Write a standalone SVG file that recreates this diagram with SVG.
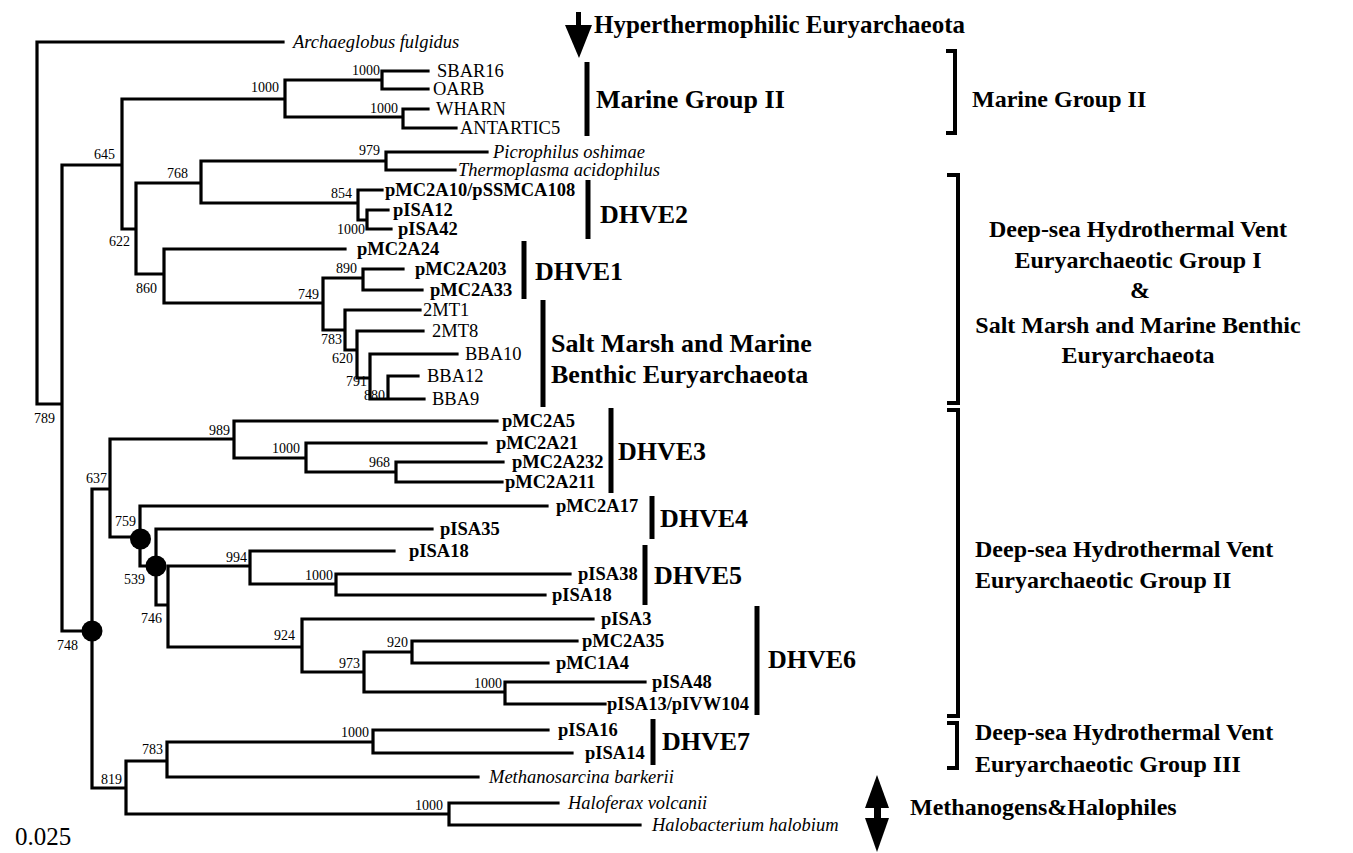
<svg xmlns="http://www.w3.org/2000/svg" width="1353" height="853" viewBox="0 0 1353 853">
<style>
.br{fill:none;stroke:#000;stroke-width:3.2;stroke-linecap:square;stroke-linejoin:miter}
.bar{stroke:#000;stroke-width:5;fill:none}
.bk{fill:none;stroke:#000;stroke-width:4}
text{font-family:"Liberation Serif","Times New Roman",serif;fill:#000}
.bs{font-size:14px;text-anchor:end}
.lf{font-size:18.5px}
.lb{font-size:18.5px;font-weight:bold}
.li{font-size:18.5px;font-style:italic}
.gl{font-size:26px;font-weight:bold}
.rl{font-size:24px;font-weight:bold}
.rc{font-size:24px;font-weight:bold;text-anchor:middle}
</style>
<rect x="0" y="0" width="1353" height="853" fill="#fff"/>
<g id="connectors">
<path class="br" d="M283 42 H37 V404 H62 M62 165 V631 H92 M62 165 H122
M285 99 H122 V229 H136
M382 80 H285 V117 H403
M428 71 H382 V89 H428
M428 109 H403 V128 H456
M201 183 H136 V274 H164
M386 161 H201 V203 H358
M487 152 H386 V170 H455
M382 190 H358 V220 H367
M388 210 H367 V229 H391
M345 249 H164 V303 H323
M363 278 H323 V330 H345
M403 269 H363 V290 H422
M420 310 H345 V350 H357
M423 331 H357 V378 H370
M457 354 H370 V399 H388
M418 376 H388 V399 H424
M110 489 H92 V788 H126
M234 439 H110 V537 H140
M497 421 H234 V458 H306
M486 443 H306 V472 H396
M503 462 H396 V482 H502
M547 506 H140 V566 H156
M432 529 H156 V605 H168
M250 566 H168 V647 H302
M394 551 H250 V584 H336
M570 574 H336 V595 H545
M593 619 H302 V672 H364
M412 652 H364 V692 H505
M577 641 H412 V663 H548
M645 682 H505 V704 H605
M167 761 H126 V814 H449
M373 742 H167 V777 H478
M548 730 H373 V753 H572
M558 803 H449 V825 H640"/>
<circle cx="92" cy="631" r="10.5" fill="#000"/>
<circle cx="140.5" cy="539" r="10.5" fill="#000"/>
<circle cx="156" cy="566" r="10.5" fill="#000"/>
</g>
<g id="bootstrap">
<text class="bs" x="279" y="92">1000</text>
<text class="bs" x="380" y="75">1000</text>
<text class="bs" x="398" y="113">1000</text>
<text class="bs" x="115" y="159">645</text>
<text class="bs" x="188" y="178">768</text>
<text class="bs" x="380" y="155">979</text>
<text class="bs" x="352" y="198">854</text>
<text class="bs" x="365" y="234">1000</text>
<text class="bs" x="130" y="246">622</text>
<text class="bs" x="157" y="293">860</text>
<text class="bs" x="357" y="273">890</text>
<text class="bs" x="319" y="299">749</text>
<text class="bs" x="342" y="344">783</text>
<text class="bs" x="353" y="363">620</text>
<text class="bs" x="367" y="386">791</text>
<text class="bs" x="385" y="400">880</text>
<text class="bs" x="55" y="423">789</text>
<text class="bs" x="230" y="435">989</text>
<text class="bs" x="300" y="453">1000</text>
<text class="bs" x="390" y="467">968</text>
<text class="bs" x="107" y="483">637</text>
<text class="bs" x="136" y="526">759</text>
<text class="bs" x="247" y="562">994</text>
<text class="bs" x="333" y="580">1000</text>
<text class="bs" x="145" y="584">539</text>
<text class="bs" x="162" y="623">746</text>
<text class="bs" x="295" y="640">924</text>
<text class="bs" x="78" y="650">748</text>
<text class="bs" x="408" y="647">920</text>
<text class="bs" x="360" y="668">973</text>
<text class="bs" x="502" y="688">1000</text>
<text class="bs" x="369" y="737">1000</text>
<text class="bs" x="163" y="754">783</text>
<text class="bs" x="122" y="784">819</text>
<text class="bs" x="443" y="810">1000</text>
</g>
<g id="leaf-archaeglobus"><text class="li" x="293" y="48">Archaeglobus fulgidus</text></g>
<g id="leaf-sbar16"><text class="lf" x="437" y="77">SBAR16</text></g>
<g id="leaf-oarb"><text class="lf" x="433" y="95">OARB</text></g>
<g id="leaf-wharn"><text class="lf" x="436" y="115">WHARN</text></g>
<g id="leaf-antartic5"><text class="lf" x="460" y="134">ANTARTIC5</text></g>
<g id="leaf-picrophilus"><text class="li" x="493" y="158">Picrophilus oshimae</text></g>
<g id="leaf-thermoplasma"><text class="li" x="458" y="176">Thermoplasma acidophilus</text></g>
<g id="leaf-pmc2a10"><text class="lb" x="385" y="196">pMC2A10/pSSMCA108</text></g>
<g id="leaf-pisa12"><text class="lb" x="393" y="216">pISA12</text></g>
<g id="leaf-pisa42"><text class="lb" x="398" y="235">pISA42</text></g>
<g id="leaf-pmc2a24"><text class="lb" x="357" y="255">pMC2A24</text></g>
<g id="leaf-pmc2a203"><text class="lb" x="415" y="275">pMC2A203</text></g>
<g id="leaf-pmc2a33"><text class="lb" x="430" y="296">pMC2A33</text></g>
<g id="leaf-2mt1"><text class="lf" x="423" y="316">2MT1</text></g>
<g id="leaf-2mt8"><text class="lf" x="432" y="337">2MT8</text></g>
<g id="leaf-bba10"><text class="lf" x="465" y="360">BBA10</text></g>
<g id="leaf-bba12"><text class="lf" x="427" y="382">BBA12</text></g>
<g id="leaf-bba9"><text class="lf" x="432" y="405">BBA9</text></g>
<g id="leaf-pmc2a5"><text class="lb" x="502" y="427">pMC2A5</text></g>
<g id="leaf-pmc2a21"><text class="lb" x="496" y="449">pMC2A21</text></g>
<g id="leaf-pmc2a232"><text class="lb" x="512" y="468">pMC2A232</text></g>
<g id="leaf-pmc2a211"><text class="lb" x="505" y="488">pMC2A211</text></g>
<g id="leaf-pmc2a17"><text class="lb" x="556" y="512">pMC2A17</text></g>
<g id="leaf-pisa35"><text class="lb" x="440" y="535">pISA35</text></g>
<g id="leaf-pisa18a"><text class="lb" x="409" y="557">pISA18</text></g>
<g id="leaf-pisa38"><text class="lb" x="578" y="580">pISA38</text></g>
<g id="leaf-pisa18b"><text class="lb" x="552" y="601">pISA18</text></g>
<g id="leaf-pisa3"><text class="lb" x="601" y="625">pISA3</text></g>
<g id="leaf-pmc2a35"><text class="lb" x="582" y="647">pMC2A35</text></g>
<g id="leaf-pmc1a4"><text class="lb" x="556" y="669">pMC1A4</text></g>
<g id="leaf-pisa48"><text class="lb" x="652" y="688">pISA48</text></g>
<g id="leaf-pisa13"><text class="lb" x="607" y="710">pISA13/pIVW104</text></g>
<g id="leaf-pisa16"><text class="lb" x="558" y="736">pISA16</text></g>
<g id="leaf-pisa14"><text class="lb" x="585" y="759">pISA14</text></g>
<g id="leaf-methanosarcina"><text class="li" x="489" y="783">Methanosarcina barkerii</text></g>
<g id="leaf-haloferax"><text class="li" x="568" y="809">Haloferax volcanii</text></g>
<g id="leaf-halobacterium"><text class="li" x="652" y="831">Halobacterium halobium</text></g>
<g id="scale"><text x="15" y="845" font-size="25px">0.025</text></g>
<g id="hyperthermophilic">
<rect x="576" y="12" width="5" height="16" fill="#000"/>
<polygon points="565,25 592,25 579,58" fill="#000"/>
<text class="rl" x="594" y="33" font-size="25px" style="font-size:25px">Hyperthermophilic Euryarchaeota</text>
</g>
<g id="grp-mgii"><line class="bar" x1="587" y1="62" x2="587" y2="136"/><text class="gl" x="596" y="108">Marine Group II</text></g>
<g id="grp-dhve2"><line class="bar" x1="588" y1="180" x2="588" y2="239"/><text class="gl" x="600" y="223">DHVE2</text></g>
<g id="grp-dhve1"><line class="bar" x1="524" y1="241" x2="524" y2="299"/><text class="gl" x="535" y="280">DHVE1</text></g>
<g id="grp-saltmarsh"><line class="bar" x1="543" y1="300" x2="543" y2="407"/><text class="gl" x="551" y="352">Salt Marsh and Marine</text><text class="gl" x="551" y="383">Benthic Euryarchaeota</text></g>
<g id="grp-dhve3"><line class="bar" x1="611" y1="408" x2="611" y2="493"/><text class="gl" x="618" y="460">DHVE3</text></g>
<g id="grp-dhve4"><line class="bar" x1="652" y1="496" x2="652" y2="539"/><text class="gl" x="660" y="527">DHVE4</text></g>
<g id="grp-dhve5"><line class="bar" x1="645" y1="545" x2="645" y2="605"/><text class="gl" x="654" y="584">DHVE5</text></g>
<g id="grp-dhve6"><line class="bar" x1="757" y1="606" x2="757" y2="715"/><text class="gl" x="768" y="668">DHVE6</text></g>
<g id="grp-dhve7"><line class="bar" x1="653" y1="719" x2="653" y2="765"/><text class="gl" x="662" y="750">DHVE7</text></g>
<g id="bracket-mgii"><path class="bk" d="M946 51 H955 V133 H946"/><text class="rl" x="972" y="107">Marine Group II</text></g>
<g id="bracket-dhveg1"><path class="bk" d="M947 175 H958 V403 H947"/>
<text class="rc" x="1138" y="237">Deep-sea Hydrothermal Vent</text>
<text class="rc" x="1138" y="268">Euryarchaeotic Group I</text>
<text class="rc" x="1140" y="298">&amp;</text>
<text class="rc" x="1138" y="333">Salt Marsh and Marine Benthic</text>
<text class="rc" x="1138" y="363">Euryarchaeota</text></g>
<g id="bracket-dhveg2"><path class="bk" d="M947 410 H958 V716 H947"/>
<text class="rl" x="975" y="557">Deep-sea Hydrothermal Vent</text>
<text class="rl" x="975" y="588">Euryarchaeotic Group II</text></g>
<g id="bracket-dhveg3"><path class="bk" d="M947 723 H957 V768 H947"/>
<text class="rl" x="975" y="740">Deep-sea Hydrothermal Vent</text>
<text class="rl" x="975" y="772">Euryarchaeotic Group III</text></g>
<g id="methanogens">
<polygon points="865,808 889,808 877,775" fill="#000"/>
<rect x="874" y="806" width="7" height="14" fill="#000"/>
<polygon points="865,818 889,818 877,852" fill="#000"/>
<text class="rl" x="910" y="815">Methanogens&amp;Halophiles</text>
</g>
</svg>
